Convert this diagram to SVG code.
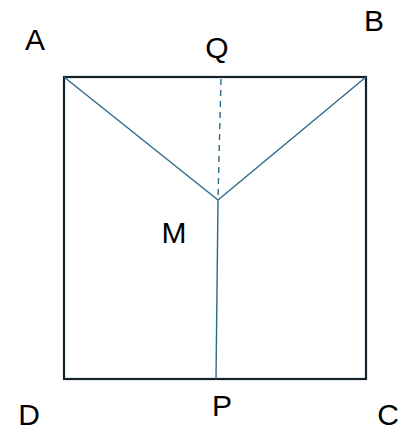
<svg xmlns="http://www.w3.org/2000/svg" width="408" height="430" viewBox="0 0 408 430">
<style>
.lbl{font-family:"Liberation Sans",Arial,sans-serif;font-size:30px;fill:#000;text-anchor:middle}
.seg{stroke:#2a6a8a;stroke-width:1.4;fill:none}
</style>
<rect width="408" height="430" fill="#fff"/>
<g id="square"><rect x="64" y="77" width="302" height="302" fill="none" stroke="#13222a" stroke-width="2.2"/></g>
<g id="connectors">
<line class="seg" x1="64" y1="77" x2="218" y2="200"/>
<line class="seg" x1="366" y1="77" x2="218" y2="200"/>
<line class="seg" x1="218" y1="200" x2="216" y2="379"/>
<line class="seg" x1="221" y1="79" x2="218" y2="200" stroke-dasharray="6,5"/>
</g>
<g id="labels">
<text class="lbl" x="35" y="50">A</text>
<text class="lbl" x="374" y="31">B</text>
<text class="lbl" x="217" y="58">Q</text>
<text class="lbl" x="174" y="243">M</text>
<text class="lbl" x="29" y="425">D</text>
<text class="lbl" x="222" y="416">P</text>
<text class="lbl" x="388" y="425">C</text>
</g>
</svg>
